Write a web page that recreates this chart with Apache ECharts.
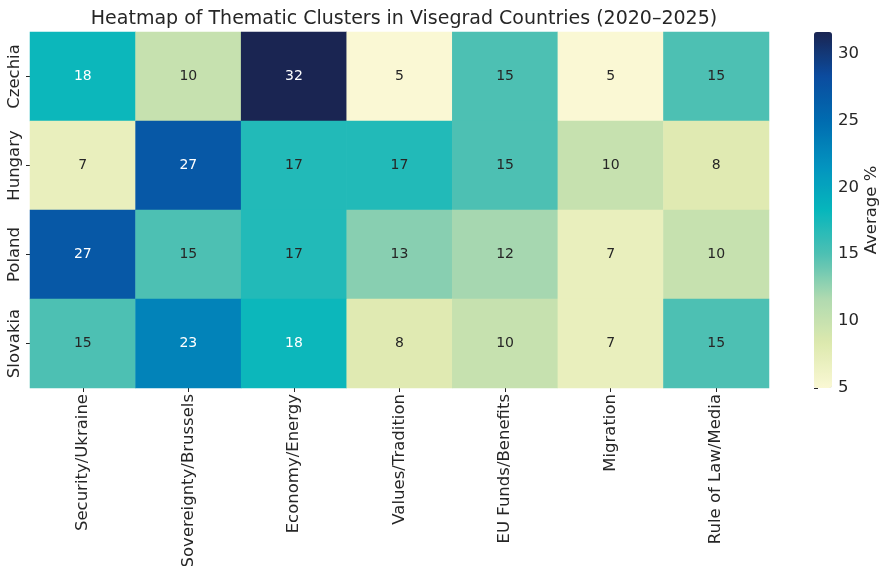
<!DOCTYPE html>
<html>
<head>
<meta charset="utf-8">
<script src="https://cdn.jsdelivr.net/npm/echarts@6/dist/echarts.min.js"></script>
<style>
  html, body { margin: 0; padding: 0; background: #fff; }
  #chart { width: 880px; height: 566px; }
</style>
</head>
<body>
<div id="chart"></div>
<script>
// categories
const themes = ['Security/Ukraine', 'Sovereignty/Brussels', 'Economy/Energy', 'Values/Tradition', 'EU Funds/Benefits', 'Migration', 'Rule of Law/Media']
const countries = ['Czechia', 'Hungary', 'Poland', 'Slovakia']

// average % per country, one value per theme
const czechia = [18, 10, 32, 5, 15, 5, 15]
const hungary = [7, 27, 17, 17, 15, 10, 8]
const poland = [27, 15, 17, 13, 12, 7, 10]
const slovakia = [15, 23, 18, 8, 10, 7, 15]

// colorbar range
const colorMin = 5
const colorMax = 31.6

const rows = [czechia, hungary, poland, slovakia]
const heatData = []
rows.forEach((row, r) => {
    row.forEach((v, c) => {
        heatData.push({
            value: [c, r, v],
            label: { color: v >= 18 ? '#ffffff' : '#262626' }
        })
    })
})

const FONT = 'DejaVu Sans'
const chart = echarts.init(document.getElementById('chart'), null, { renderer: 'canvas' })

chart.setOption({
    animation: false,
    textStyle: { fontFamily: FONT },
    title: {
        text: 'Heatmap of Thematic Clusters in Visegrad Countries (2020\u20132025)',
        left: 399,
        textAlign: 'center',
        top: 5,
        textStyle: { fontFamily: FONT, fontSize: 19, fontWeight: 'normal', color: '#262626' }
    },
    grid: [
        { left: 30, top: 32, width: 739, height: 356, containLabel: false, outerBoundsMode: 'none' },
        { left: 814, top: 32, width: 18, height: 356, containLabel: false, outerBoundsMode: 'none' }
    ],
    xAxis: [
        {
            type: 'category',
            gridIndex: 0,
            data: themes,
            axisLine: { show: false },
            axisTick: { show: true, alignWithLabel: true, length: 4, lineStyle: { color: '#262626' } },
            axisLabel: { interval: 0, rotate: 90, fontSize: 16.5, color: '#262626', margin: 6, fontFamily: FONT },
            splitLine: { show: false }
        },
        {
            type: 'value',
            gridIndex: 1,
            show: false,
            min: 0,
            max: 1
        }
    ],
    yAxis: [
        {
            type: 'category',
            gridIndex: 0,
            data: countries,
            inverse: true,
            axisLine: { show: false },
            axisTick: { show: true, alignWithLabel: true, length: 4, lineStyle: { color: '#262626' } },
            axisLabel: { interval: 0, rotate: 90, fontSize: 16.5, color: '#262626', margin: 7, fontFamily: FONT },
            splitLine: { show: false }
        },
        {
            type: 'value',
            gridIndex: 1,
            position: 'right',
            min: colorMin,
            max: colorMax,
            interval: 5,
            axisLine: { show: false },
            axisTick: { show: true, length: 4, lineStyle: { color: '#262626' } },
            axisLabel: {
                fontSize: 16.5, color: '#262626', margin: 6, fontFamily: FONT,
                showMaxLabel: false,
                formatter: v => (v % 5 === 0 ? String(v) : '')
            },
            splitLine: { show: false },
            name: 'Average %',
            nameLocation: 'middle',
            nameGap: 30,
            nameTextStyle: { fontSize: 16.5, color: '#262626', fontFamily: FONT }
        }
    ],
    visualMap: {
        type: 'continuous',
        seriesIndex: 0,
        min: colorMin,
        max: colorMax,
        calculable: false,
        realtime: false,
        left: 814,
        top: 32,
        padding: 0,
        itemWidth: 18,
        itemHeight: 356,
        text: ['', ''],
        showLabel: false,
        inRange: {
            color: ['#faf8d4', '#dde9ae', '#b0dab0', '#4ec0b3', '#06b6bc', '#0393bf', '#006cb0', '#0b4c9f', '#1a2552']
        }
    },
    series: [
        {
            type: 'heatmap',
            xAxisIndex: 0,
            yAxisIndex: 0,
            data: heatData,
            label: {
                show: true,
                fontSize: 14,
                fontFamily: FONT,
                formatter: p => Math.round(p.value[2])
            },
            itemStyle: { borderWidth: 0 },
            emphasis: { disabled: true }
        },
        {
            type: 'scatter',
            xAxisIndex: 1,
            yAxisIndex: 1,
            data: [],
            silent: true
        }
    ]
})
</script>
</body>
</html>
